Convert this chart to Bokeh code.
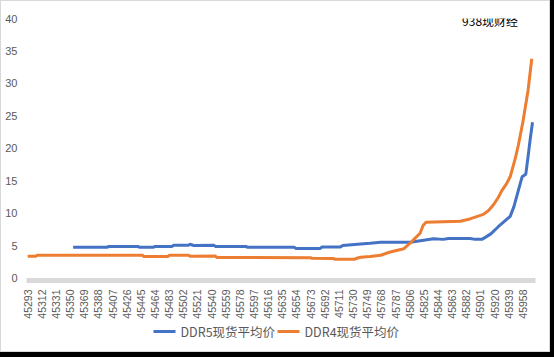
from bokeh.plotting import figure
from bokeh.models import FixedTicker, Label, Range1d
from bokeh.core.properties import value
from bokeh.layouts import column
from bokeh.embed import file_html
from bokeh.resources import INLINE

# ---- data ----
ddr4_days = [45293, 45304, 45306, 45447, 45449, 45481, 45483, 45509, 45511, 45545,
             45547, 45673, 45675, 45703, 45706, 45732, 45735, 45740, 45753, 45767,
             45780, 45798, 45807, 45813, 45820, 45824, 45828, 45874, 45887, 45905,
             45912, 45918, 45925, 45930, 45936, 45941, 45948, 45952, 45958, 45965,
             45970]
ddr4_vals = [3.35, 3.35, 3.52, 3.52, 3.30, 3.30, 3.50, 3.50, 3.35, 3.38,
             3.15, 3.12, 3.03, 3.00, 2.88, 2.88, 3.05, 3.20, 3.30, 3.50,
             4.00, 4.50, 5.40, 6.10, 6.90, 8.10, 8.60, 8.75, 9.10, 9.80,
             10.4, 11.2, 12.4, 13.5, 14.5, 15.6, 18.5, 20.5, 24.0, 28.9,
             33.8]

ddr5_days = [45354, 45400, 45402, 45441, 45443, 45462, 45464, 45487, 45489, 45509,
             45511, 45516, 45543, 45545, 45586, 45588, 45651, 45653, 45686, 45688,
             45713, 45716, 45736, 45753, 45767, 45807, 45838, 45851, 45858, 45887,
             45894, 45903, 45908, 45915, 45925, 45932, 45941, 45946, 45952, 45957,
             45962, 45965, 45968, 45971]
ddr5_vals = [4.72, 4.72, 4.87, 4.87, 4.72, 4.72, 4.87, 4.87, 5.05, 5.05,
             5.20, 5.00, 5.03, 4.87, 4.87, 4.72, 4.72, 4.56, 4.56, 4.77,
             4.77, 5.00, 5.20, 5.35, 5.50, 5.50, 6.05, 5.95, 6.10, 6.10,
             5.95, 5.95, 6.30, 6.80, 7.90, 8.60, 9.50, 11.0, 13.5, 15.6,
             16.0, 18.7, 21.5, 24.0]

tick_labels = ["45293", "45312", "45331", "45350", "45369", "45388", "45407", "45426",
               "45445", "45464", "45483", "45502", "45521", "45540", "45559", "45578",
               "45597", "45616", "45635", "45654", "45673", "45692", "45711", "45730",
               "45749", "45768", "45787", "45806", "45825", "45844", "45863", "45882",
               "45901", "45920", "45939", "45958"]
y_ticks = [0, 5, 10, 15, 20, 25, 30, 35, 40]

series_names = ["DDR5现货平均价", "DDR4现货平均价"]
series_colors = ["#4472C4", "#ED7D31"]
watermark = "938现财经"

GREY_TXT = "#595959"
TICK_FONT = "'Liberation Sans Narrow', 'Liberation Sans', sans-serif"
CJK_FONT = "'Noto Sans CJK SC', sans-serif"

tick_pos = [int(t) for t in tick_labels]

# ---- main chart ----
p = figure(width=548, height=320, output_backend="svg", toolbar_location=None,
           x_range=Range1d(45291.4, 45975), y_range=Range1d(-0.39, 40),
           min_border_left=25, min_border_right=14, min_border_top=17,
           min_border_bottom=41)
p.background_fill_color = "white"
p.border_fill_color = "white"
p.outline_line_color = None
p.xgrid.visible = False
p.ygrid.visible = False

p.line(ddr5_days, ddr5_vals, line_color=series_colors[0], line_width=3)
p.line(ddr4_days, ddr4_vals, line_color=series_colors[1], line_width=3)

xa = p.xaxis[0]
xa.ticker = FixedTicker(ticks=tick_pos)
xa.major_label_overrides = {t: s for t, s in zip(tick_pos, tick_labels)}
xa.major_label_orientation = 1.5707963
xa.axis_line_color = "#D9D9D9"
xa.axis_line_width = 5
xa.major_tick_line_color = None
xa.minor_tick_line_color = None
xa.major_tick_out = 0
xa.major_label_standoff = 9
xa.major_label_text_font = TICK_FONT
xa.major_label_text_font_size = "10.5px"
xa.major_label_text_color = GREY_TXT

ya = p.yaxis[0]
ya.ticker = FixedTicker(ticks=y_ticks)
ya.axis_line_color = None
ya.major_tick_line_color = None
ya.minor_tick_line_color = None
ya.major_tick_out = 0
ya.major_label_standoff = 9
ya.major_label_text_font = TICK_FONT
ya.major_label_text_font_size = "11px"
ya.major_label_text_color = GREY_TXT

p.add_layout(Label(x=45914, y=39.75, text=watermark, text_align="center",
                   text_baseline="middle", text_font=CJK_FONT,
                   text_font_size="12px", text_color="black"))

# ---- legend strip (page-pixel coordinates; frame aligned with main chart 26..535) ----
p2 = figure(width=548, height=30, output_backend="svg", toolbar_location=None,
            x_axis_location=None, y_axis_location=None,
            x_range=Range1d(26, 535), y_range=Range1d(0, 30),
            min_border_left=0, min_border_right=0, min_border_top=0,
            min_border_bottom=0)
p2.outline_line_color = None
p2.xgrid.visible = False
p2.ygrid.visible = False
p2.background_fill_color = "white"
p2.border_fill_color = "white"

swatch_x0 = [153, 277]
swatch_w = 22
p2.segment(x0=swatch_x0, y0=[20, 20], x1=[x + swatch_w for x in swatch_x0],
           y1=[20, 20], line_color=series_colors, line_width=3)
p2.text(x=[x + swatch_w + 5 for x in swatch_x0], y=[20, 20], text=series_names,
        text_font=value(CJK_FONT), text_font_size="12.5px",
        text_color=GREY_TXT, text_baseline="middle", text_align="left")

inner = column(p, p2, spacing=0, styles={"border": "1px solid #D9D9D9",
                                          "background-color": "white"})
page = column(inner, width=554, height=357, styles={"background-color": "black"})

open("out.html", "w").write(file_html(page, INLINE))
